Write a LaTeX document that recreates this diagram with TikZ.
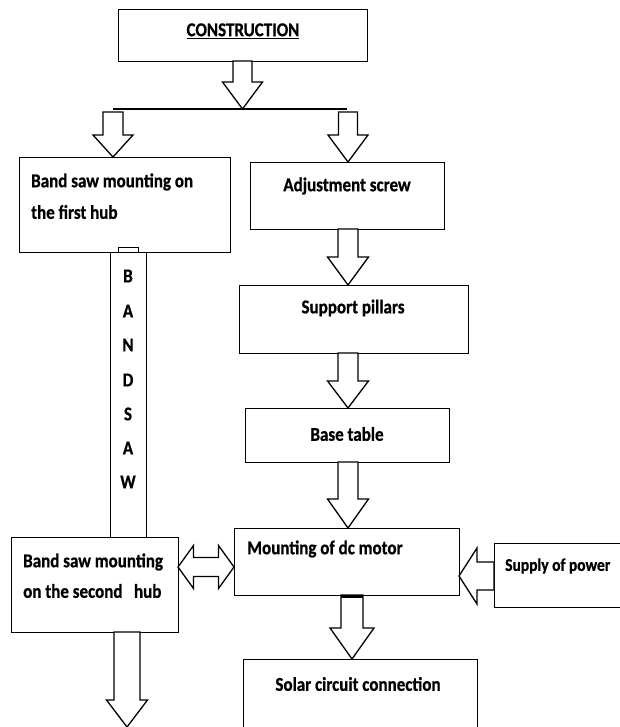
\documentclass[tikz,border=0pt]{standalone}
\usepackage{fontspec}
\usepackage{graphicx}
\setmainfont{Carlito}[BoldFeatures={FakeBold=0.8}]
\usetikzlibrary{calc}
\tikzset{
  box/.style={draw, line width=0.8pt, inner sep=0pt, outer sep=0pt},
  lbl/.style={font=\bfseries\fontsize{17}{20}\selectfont, inner sep=0pt},
  small/.style={font=\bfseries\fontsize{15.5}{18}\selectfont},
  blk/.style={draw, line width=1.3pt, fill=white, line join=miter},
  rule/.style={draw, line width=1.1pt},
}
\newcommand{\tx}[1]{\scalebox{1}[1.15]{#1}}
\newcommand{\boxat}[5]{\node[box, minimum width={(#4-#2)*1pt}, minimum height={(#5-#3)*1pt}] (#1) at ({(#2+#4)/2},{(#3+#5)/2}) {};}
% vertical block arrow: #1 from, #2 to, #3 x, #4 head length, #5 shaft half width, #6 head half width
\newcommand{\vblk}[6]{\draw[blk] let \p1=(#1), \p2=(#2) in
  ({#3pt-#5pt},\y1) -- ({#3pt-#5pt},{\y2+#4pt}) -- ({#3pt-#6pt},{\y2+#4pt}) -- (#3pt,\y2)
  -- ({#3pt+#6pt},{\y2+#4pt}) -- ({#3pt+#5pt},{\y2+#4pt}) -- ({#3pt+#5pt},\y1) -- cycle;}
% left-pointing block arrow: #1 from (right), #2 to (left), #3 y, #4 head length, #5 shaft half, #6 head half
\newcommand{\lblk}[6]{\draw[blk] let \p1=(#1), \p2=(#2) in
  (\x1,{-#3pt+#5pt}) -- ({\x2+#4pt},{-#3pt+#5pt}) -- ({\x2+#4pt},{-#3pt+#6pt}) -- (\x2,-#3pt)
  -- ({\x2+#4pt},{-#3pt-#6pt}) -- ({\x2+#4pt},{-#3pt-#5pt}) -- (\x1,{-#3pt-#5pt}) -- cycle;}
% double block arrow between #1 (left) and #2 (right) at y #3
\newcommand{\dblk}[6]{\draw[blk] let \p1=(#1), \p2=(#2) in
  (\x1,-#3pt) -- ({\x1+#4pt},{-#3pt+#6pt}) -- ({\x1+#4pt},{-#3pt+#5pt}) -- ({\x2-#4pt},{-#3pt+#5pt})
  -- ({\x2-#4pt},{-#3pt+#6pt}) -- (\x2,-#3pt) -- ({\x2-#4pt},{-#3pt-#6pt}) -- ({\x2-#4pt},{-#3pt-#5pt})
  -- ({\x1+#4pt},{-#3pt-#5pt}) -- ({\x1+#4pt},{-#3pt-#6pt}) -- cycle;}
\begin{document}
\begin{tikzpicture}[x=1pt,y=-1pt]
\useasboundingbox[fill=white] (0,0) rectangle (620,727);
% boxes
\boxat{cons}{118}{9}{367}{61}
\boxat{hubA}{19}{157}{230}{252}
\boxat{adj}{250}{162}{444}{229}
\boxat{sup}{239}{285}{468}{353}
\boxat{base}{245}{408}{449}{462}
\boxat{motor}{234}{528}{459}{595}
\boxat{hubB}{11}{537}{178}{632}
\boxat{power}{494}{543}{630}{607}
\boxat{solar}{243}{659}{477}{740}
\boxat{strip}{110}{252}{146}{537}
\boxat{tab}{118}{247}{138}{252}
% texts
\node[lbl] (tcons) at (243,31) {\tx{\underline{CONSTRUCTION}}};
\node[lbl, anchor=west] (thA1) at (31,182) {\tx{Band saw mounting on}};
\node[lbl, anchor=west] (thA2) at (31,212) {\tx{the first hub}};
\node[lbl] (tadj) at (347,186) {\tx{Adjustment screw}};
\node[lbl] (tsup) at (353,308) {\tx{Support pillars}};
\node[lbl] (tbase) at (347,434) {\tx{Base table}};
\node[lbl, anchor=west] (tmot) at (247,549) {\tx{Mounting of dc motor}};
\node[lbl, anchor=west] (thB1) at (23,562) {\tx{Band saw mounting}};
\node[lbl, anchor=west] (thB2) at (23,591) {\tx{on the second\ \ \ hub}};
\node[lbl, small, anchor=west] (tpow) at (505,566) {\tx{Supply of power}};
\node[lbl] (tsol) at (358,684) {\tx{Solar circuit connection}};
\foreach \l/\yy [count=\i] in {B/276,A/311,N/345,D/380,S/414,A/448,W/482}
  \node[lbl] (ltr\i) at (128,\yy) {\tx{\l}};
% branch line
\coordinate (split) at (242.5,109);
\coordinate (brL) at (113,109);
\coordinate (brR) at (347,109);
\coordinate (stL) at (113,112);
\coordinate (stR) at (348,112);
\draw[rule] (brL) -- (brR);
% arrows
\vblk{cons.south}{split}{242.5}{27}{9.5}{20}
\vblk{stL}{hubA.north}{113}{22}{10}{20}
\vblk{stR}{adj.north}{348}{27}{9.5}{20}
\vblk{adj.south}{sup.north}{348}{28}{10}{20.5}
\vblk{sup.south}{base.north}{348}{27}{10}{20.5}
\vblk{base.south}{motor.north}{348}{29}{10}{20.5}
\vblk{motor.south}{solar.north}{352}{31}{11}{22}
\fill ($(motor.south)+(341-346.5,0)$) rectangle ++(22,3);
\coordinate (bot) at (127,727);
\vblk{hubB.south}{bot}{127}{27}{13}{20.5}
\dblk{hubB.east}{motor.west}{567}{15.5}{9.5}{21.5}
\lblk{power.west}{motor.east}{576}{18}{14}{28}
\end{tikzpicture}
\end{document}
